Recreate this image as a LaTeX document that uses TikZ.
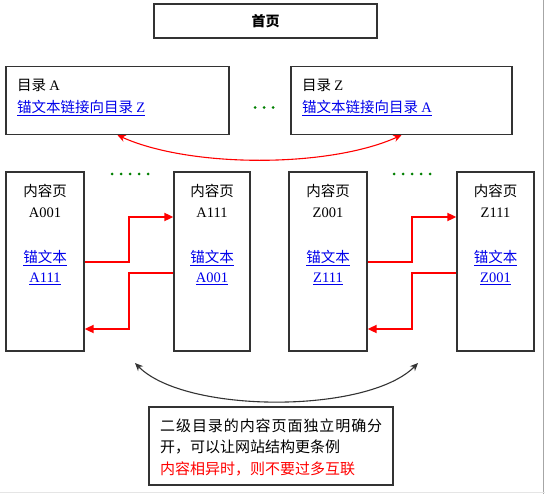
\documentclass[tikz,border=0pt]{standalone}
\usepackage{fontspec}
\setmainfont{Liberation Serif}
\newfontfamily\cjk{Noto Sans CJK SC}
\usetikzlibrary{arrows.meta}
\definecolor{linkblue}{RGB}{0,0,235}
\definecolor{dotgreen}{RGB}{0,128,0}
\definecolor{arrred}{RGB}{255,0,0}
\newcommand{\lnk}[1]{\underline{#1}}
\begin{document}
\begin{tikzpicture}[x=1pt,y=-1pt,
  box/.style={draw=black!80, line width=1.3pt, rectangle, inner sep=0pt},
  txt/.style={inner sep=0pt, font=\fontsize{14.5}{16}\selectfont},
  note/.style={inner sep=0pt, font=\fontsize{15}{17}\selectfont},
  linktxt/.style={txt, text=linkblue},
  redarr/.style={draw=arrred, line width=1.8pt, -{Triangle[length=9pt,width=8pt]}},
  redarc/.style={draw=arrred, line width=1.1pt, {Stealth[length=8pt,width=7pt]}-{Stealth[length=8pt,width=7pt]}},
  blackarc/.style={draw=black!80, line width=1.1pt, {Stealth[length=8pt,width=7pt]}-{Stealth[length=8pt,width=7pt]}},
  gdot/.style={fill=dotgreen}]
\useasboundingbox (0,0) rectangle (545,494);
\fill[white] (0,0) rectangle (545,494);
% frame edges
\draw[gray!70, line width=1.5pt] (543.5,0) -- (543.5,494);
\draw[gray!20, line width=1pt] (0,492.5) -- (545,492.5);

% home
\node[box, minimum width=223pt, minimum height=34pt] (home) at (265.5,21) {};
\node[txt, font=\fontsize{14}{16}\selectfont\cjk\bfseries] (homet) at (265.5,21) {首页};

% directories
\node[box, minimum width=223pt, minimum height=68pt] (dirA) at (117.5,100.5) {};
\node[txt, anchor=west] (dirAt) at (17,85) {\cjk 目录 \rmfamily A};
\node[linktxt, anchor=west] (dirAl) at (17,108) {\lnk{\cjk 锚文本链接向目录 \rmfamily Z}};

\node[box, minimum width=221pt, minimum height=68pt] (dirZ) at (401.5,100.5) {};
\node[txt, anchor=west] (dirZt) at (302,85) {\cjk 目录 \rmfamily Z};
\node[linktxt, anchor=west] (dirZl) at (302,108) {\lnk{\cjk 锚文本链接向目录 \rmfamily A}};

\foreach \x in {255,264,273} \fill[gdot] (\x,107.5) circle (1.5pt);

\draw[redarc] (dirA.south) .. controls (190,168) and (329,168) .. (dirZ.south);

% content pages
\node[box, minimum width=78pt, minimum height=179pt] (a1) at (45,261.5) {};
\node[box, minimum width=76pt, minimum height=179pt] (a2) at (212,261.5) {};
\node[box, minimum width=78pt, minimum height=179pt] (z1) at (328,261.5) {};
\node[box, minimum width=77pt, minimum height=179pt] (z2) at (495.5,261.5) {};

\node[txt] (a1t) at (45,191) {\cjk 内容页};
\node[txt] (a1n) at (45,213) {A001};
\node[linktxt] (a1l) at (45,258) {\lnk{\cjk 锚文本}};
\node[linktxt] (a1m) at (45,279) {\lnk{A111}};

\node[txt] (a2t) at (212,191) {\cjk 内容页};
\node[txt] (a2n) at (212,213) {A111};
\node[linktxt] (a2l) at (212,258) {\lnk{\cjk 锚文本}};
\node[linktxt] (a2m) at (212,279) {\lnk{A001}};

\node[txt] (z1t) at (328,191) {\cjk 内容页};
\node[txt] (z1n) at (328,213) {Z001};
\node[linktxt] (z1l) at (328,258) {\lnk{\cjk 锚文本}};
\node[linktxt] (z1m) at (328,279) {\lnk{Z111}};

\node[txt] (z2t) at (495.5,191) {\cjk 内容页};
\node[txt] (z2n) at (495.5,213) {Z111};
\node[linktxt] (z2l) at (495.5,258) {\lnk{\cjk 锚文本}};
\node[linktxt] (z2m) at (495.5,279) {\lnk{Z001}};

\foreach \x in {112,121,130,139,148} \fill[gdot] (\x,174) circle (1.5pt);
\foreach \x in {394,403,412,421,430} \fill[gdot] (\x,174) circle (1.5pt);

% red link arrows
\draw[redarr] (a1.east |- 0,262) -| (129,217) -- (a2.west |- 0,217);
\draw[redarr] (a2.west |- 0,273) -| (129,329) -- (a1.east |- 0,329);
\draw[redarr] (z1.east |- 0,262) -| (412,217) -- (z2.west |- 0,217);
\draw[redarr] (z2.west |- 0,273) -| (412,329) -- (z1.east |- 0,329);

% black arc
\coordinate (bl) at (135,363);
\coordinate (br) at (418,363);
\draw[blackarc] (bl) .. controls (185,414) and (368,414) .. (br);

% note
\node[box, minimum width=244pt, minimum height=78pt] (note) at (271,446) {};
\node[note, anchor=west] (n1) at (160,426) {\cjk\makebox[222pt]{二\hfill 级\hfill 目\hfill 录\hfill 的\hfill 内\hfill 容\hfill 页\hfill 面\hfill 独\hfill 立\hfill 明\hfill 确\hfill 分}};
\node[note, anchor=west] (n2) at (160,447) {\cjk 开，可以让网站结构更条例};
\node[note, anchor=west, text=arrred] (n3) at (160,469) {\cjk 内容相异时，则不要过多互联};
\end{tikzpicture}
\end{document}
